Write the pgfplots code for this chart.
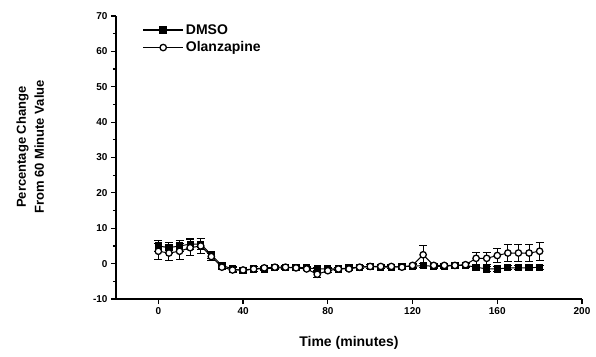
\documentclass[border=0pt]{standalone}
\usepackage{pgfplots}
\pgfplotsset{compat=1.18}
\usepackage{pgfplotstable}
\usepackage{fontspec}
\setmainfont{Liberation Sans}

\pgfplotstableread{
t y e
0 5.0 1.5
5 4.5 1.5
10 5.0 1.5
15 5.5 1.5
20 5.5 1.5
25 2.5 1.0
30 -0.5 0.8
35 -1.5 0.8
40 -2.0 0.8
45 -1.5 0.6
50 -1.5 0.5
55 -1.2 0.5
60 -1.2 0.5
65 -1.0 0.5
70 -1.2 0.5
75 -1.5 0.5
80 -1.5 0.5
85 -1.5 0.5
90 -1.2 0.5
95 -1.0 0.5
100 -0.8 0.5
105 -1.0 0.5
110 -1.0 0.5
115 -0.8 0.5
120 -0.8 0.5
125 -0.5 0.5
130 -0.8 0.5
135 -0.8 0.5
140 -0.5 0.5
145 -0.5 0.5
150 -1.0 0.6
155 -1.5 0.6
160 -1.5 0.6
165 -1.2 0.6
170 -1.2 0.6
175 -1.2 0.6
180 -1.0 0.6
}\dmso

\pgfplotstableread{
t y e
0 3.5 2.3
5 3.0 2.2
10 3.5 2.2
15 4.5 2.3
20 5.0 2.0
25 2.0 1.0
30 -1.0 0.8
35 -1.8 0.8
40 -1.8 0.8
45 -1.5 0.6
50 -1.2 0.5
55 -1.0 0.5
60 -1.0 0.5
65 -1.2 0.5
70 -1.5 0.5
75 -3.0 0.8
80 -2.0 0.5
85 -1.5 0.5
90 -1.5 0.5
95 -1.0 0.5
100 -0.8 0.5
105 -0.8 0.5
110 -0.8 0.5
115 -1.0 0.5
120 -0.5 0.5
125 2.5 2.6
130 -0.5 0.5
135 -0.5 0.5
140 -0.5 0.5
145 -0.3 0.5
150 1.5 1.7
155 1.5 1.7
160 2.3 2.0
165 3.0 2.3
170 3.0 2.3
175 3.0 2.3
180 3.5 2.5
}\olz

\begin{document}
\begin{tikzpicture}
\begin{axis}[
  name=main,
  at={(0,0)}, anchor=south west,
  scale only axis,
  width=466pt, height=283pt,
  xmin=-20, xmax=200, ymin=-10, ymax=70,
  axis lines=left,
  axis line style={-, line width=1.6pt},
  xtick={0,40,80,120,160,200},
  ytick={-10,0,10,20,30,40,50,60,70},
  minor y tick num=1,
  tick align=outside,
  major tick length=5pt,
  minor tick length=3pt,
  tick style={line width=1.2pt, black},
  /pgf/number format/assume math mode=true,
  ticklabel style={font=\fontsize{10}{12}\selectfont\bfseries},
  xlabel={Time (minutes)},
  ylabel={Percentage Change\\From 60 Minute Value},
  xlabel style={at={(axis description cs:0.5,-0.155)}, anchor=center, font=\fontsize{14}{16}\selectfont\bfseries},
  ylabel style={at={(axis description cs:-0.184,0.537)}, anchor=center, align=center, font=\fontsize{13}{18}\selectfont\bfseries},
  legend style={draw=none, fill=none, at={(axis description cs:0.05,0.985)}, anchor=north west,
    font=\fontsize{14}{16}\selectfont\bfseries, row sep=2pt},
  legend cell align=left,
  legend image code/.code={\draw[line width=1.4pt, mark repeat=2,mark phase=2] plot coordinates {(0pt,0pt) (20pt,0pt) (40pt,0pt)};},
]
\addplot[black, line width=1pt, mark=square*, mark size=3.1pt, mark options={solid, fill=black},
  error bars/.cd, y dir=both, y explicit, error bar style={line width=1pt},
  error mark options={rotate=90, mark size=4pt, line width=1pt}]
  table[x=t, y=y, y error=e] {\dmso};
\addlegendentry{DMSO}
\addplot[black, line width=1pt, mark=*, mark size=3.2pt, mark options={solid, fill=white, line width=1.3pt},
  error bars/.cd, y dir=both, y explicit, error bar style={line width=1pt},
  error mark options={rotate=90, mark size=4pt, line width=1pt}]
  table[x=t, y=y, y error=e] {\olz};
\addlegendentry{Olanzapine}
\end{axis}
\pgfresetboundingbox
\useasboundingbox (-116pt,-57pt) rectangle (480pt,299pt);
\end{tikzpicture}
\end{document}
